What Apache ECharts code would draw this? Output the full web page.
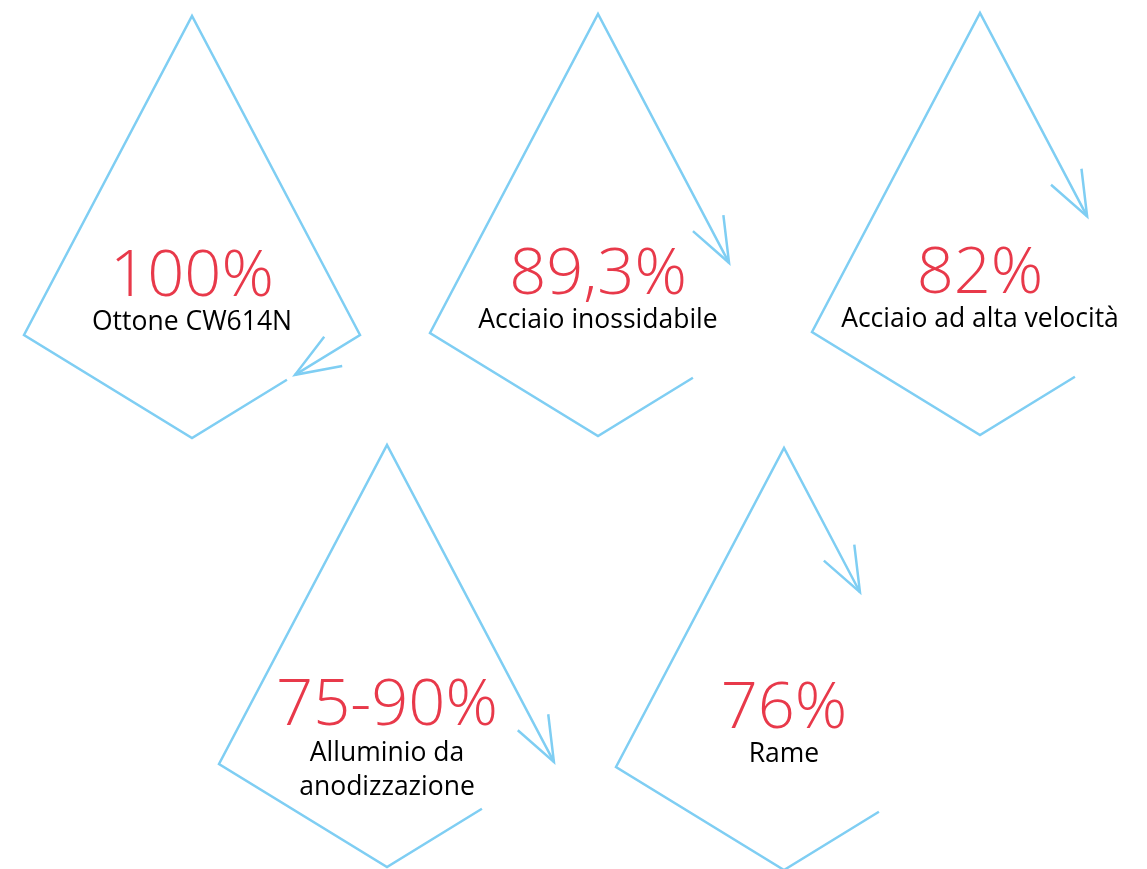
<!DOCTYPE html>
<html>
<head>
<meta charset="utf-8">
<script src="https://cdn.jsdelivr.net/npm/echarts@6/dist/echarts.min.js"></script>
<style>
  html, body { margin: 0; padding: 0; background: #fff; }
  #chart { width: 1147px; height: 869px; }
</style>
</head>
<body>
<div id="chart"></div>
<script>
// data
const materials = ['Ottone CW614N', 'Acciaio inossidabile', 'Acciaio ad alta velocità', 'Alluminio da\nanodizzazione', 'Rame'];
const percentLabels = ['100%', '89,3%', '82%', '75-90%', '76%'];
// how much of each kite outline the arrow covers (0..1)
const arrowProgress = [0.9915, 0.852, 0.806, 0.921, 0.746];

// layout: top vertex of every kite
const kiteTops = [[192, 16], [598, 14], [980, 13], [387, 445], [784, 448]];
const halfW = 168, sideDy = 319, bottomDy = 422, startFrac = 0.565;
const blue = '#7fcef3', red = '#e8394a';

function kitePath(top, frac) {
  const cx = top[0], ty = top[1];
  const T = [cx, ty], L = [cx - halfW, ty + sideDy], B = [cx, ty + bottomDy], R = [cx + halfW, ty + sideDy];
  const S = [B[0] + (R[0] - B[0]) * startFrac, B[1] + (R[1] - B[1]) * startFrac];
  const pts = [S, B, L, T, R, S];
  let total = 0;
  for (let i = 1; i < pts.length; i++) total += Math.hypot(pts[i][0] - pts[i-1][0], pts[i][1] - pts[i-1][1]);
  let left = total * frac;
  const out = [S];
  let dir = [0, 0];
  for (let i = 1; i < pts.length; i++) {
    const a = pts[i-1], b = pts[i];
    const len = Math.hypot(b[0] - a[0], b[1] - a[1]);
    dir = [(b[0] - a[0]) / len, (b[1] - a[1]) / len];
    if (left <= len) { out.push([a[0] + dir[0] * left, a[1] + dir[1] * left]); break; }
    out.push(b);
    left -= len;
  }
  return { path: out, dir: dir };
}

function arrowHead(tip, dir) {
  const back = Math.atan2(-dir[1], -dir[0]), a = 21 * Math.PI / 180, len = 48;
  return [
    [tip[0] + Math.cos(back + a) * len, tip[1] + Math.sin(back + a) * len],
    tip,
    [tip[0] + Math.cos(back - a) * len, tip[1] + Math.sin(back - a) * len]
  ];
}

const series = [];
kiteTops.forEach(function (top, i) {
  const k = kitePath(top, arrowProgress[i]);
  const tip = k.path[k.path.length - 1];
  [k.path, arrowHead(tip, k.dir)].forEach(function (d) {
    series.push({
      type: 'line', data: d, showSymbol: false, symbol: 'none', silent: true,
      lineStyle: { color: blue, width: 2.5, join: 'miter' }
    });
  });
});

series.push({
  type: 'scatter', symbolSize: 0, silent: true,
  itemStyle: { opacity: 1, color: 'transparent' },
  data: kiteTops.map(function (t, i) { return { value: [t[0], t[1] + 261], name: percentLabels[i] }; }),
  label: {
    show: true, position: 'inside', formatter: '{b}', color: red,
    fontFamily: 'Open Sans', fontWeight: 300, fontSize: 65
  }
});
series.push({
  type: 'scatter', symbolSize: 0, silent: true,
  itemStyle: { opacity: 1, color: 'transparent' },
  data: kiteTops.map(function (t, i) {
    const lines = materials[i].split('\n').length;
    return { value: [t[0], t[1] + 306 + (lines - 1) * 19], name: materials[i] };
  }),
  label: {
    show: true, position: 'inside', formatter: '{b}', color: '#000',
    fontFamily: 'Open Sans', fontWeight: 400, fontSize: 26.5, lineHeight: 34
  }
});

const chart = echarts.init(document.getElementById('chart'));
chart.setOption({
  animation: false,
  grid: { left: 0, right: 0, top: 0, bottom: 0 },
  xAxis: { type: 'value', min: 0, max: 1147, show: false },
  yAxis: { type: 'value', min: 0, max: 869, inverse: true, show: false },
  series: series
});
</script>
</body>
</html>
